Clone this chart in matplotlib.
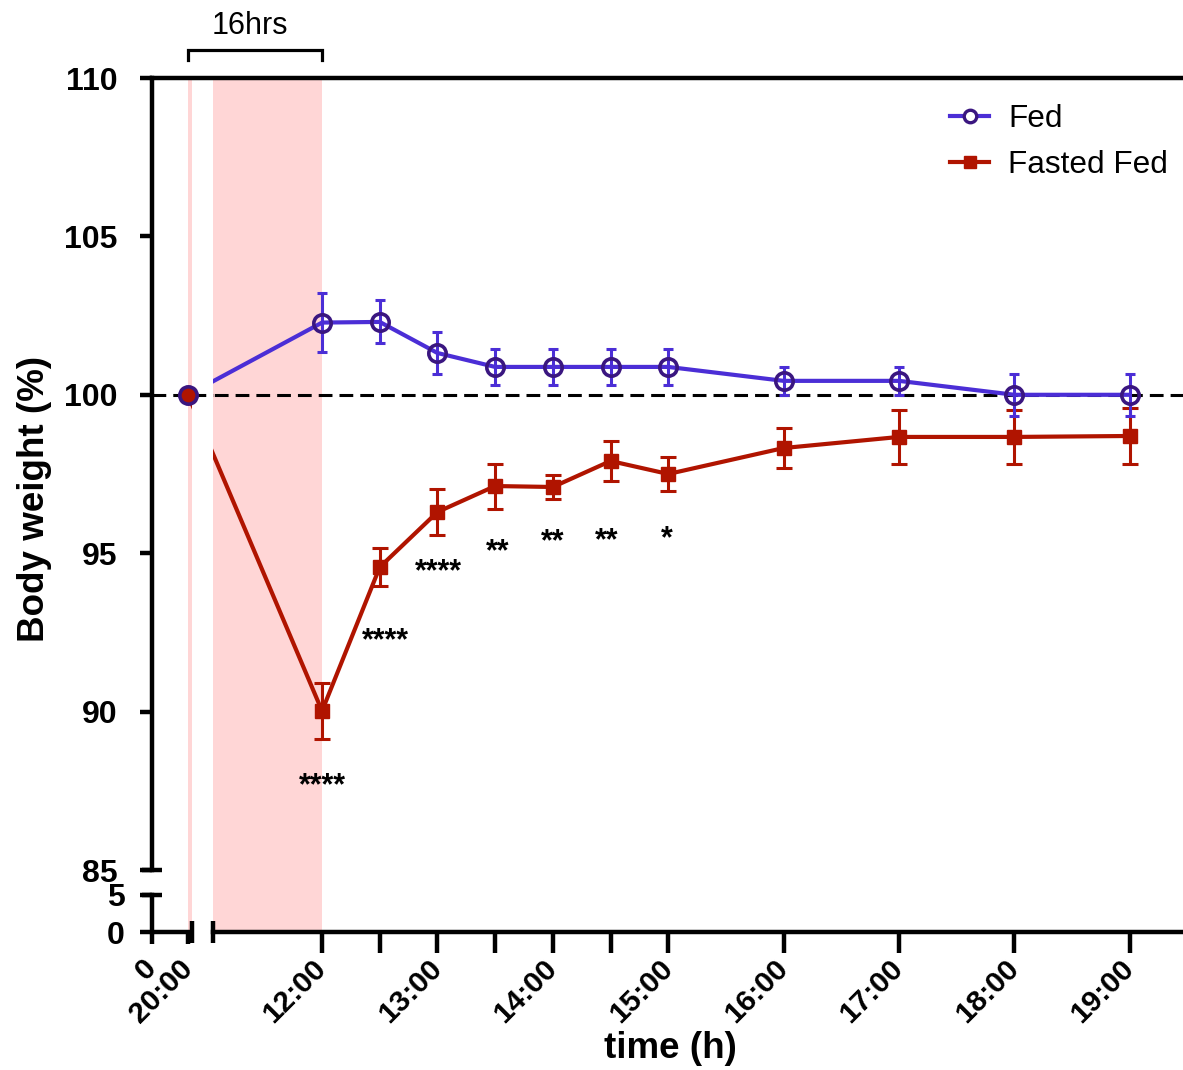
import numpy as np
import matplotlib
matplotlib.use("Agg")
import matplotlib.pyplot as plt
from matplotlib.lines import Line2D

plt.rcParams['font.family'] = ['Liberation Sans', 'DejaVu Sans']

# ---------------- data ----------------
time_labels = ['20:00', '12:00', '12:30', '13:00', '13:30', '14:00', '14:30',
               '15:00', '16:00', '17:00', '18:00', '19:00']
# hours since midnight of the first day (20:00 day 0 -> 20, 12:00 day 1 -> 36)
time_hours = [20, 36, 36.5, 37, 37.5, 38, 38.5, 39, 40, 41, 42, 43]

fed_mean = [100.0, 102.28, 102.30, 101.32, 100.88, 100.88, 100.88, 100.88,
            100.44, 100.44, 100.00, 100.00]
fed_sem = [0.0, 0.93, 0.68, 0.65, 0.58, 0.58, 0.58, 0.58, 0.44, 0.44, 0.66, 0.66]

fasted_mean = [100.0, 90.02, 94.56, 96.30, 97.12, 97.09, 97.91, 97.50,
               98.32, 98.67, 98.67, 98.70]
fasted_sem = [0.0, 0.87, 0.60, 0.74, 0.71, 0.38, 0.62, 0.54, 0.63, 0.86, 0.86, 0.88]

star_labels = ['****', '****', '****', '**', '**', '**', '*']
star_x = [36.0, 36.55, 37.01, 37.52, 38.0, 38.47, 38.99]
star_y = [87.81, 92.39, 94.56, 95.20, 95.51, 95.54, 95.61]

fast_start, fast_end = 20, 36

xtick_major = [36, 36.5, 37, 37.5, 38, 38.5, 39, 40, 41, 42, 43]
xtick_major_labels = ['12:00', '', '13:00', '', '14:00', '', '15:00', '16:00',
                      '17:00', '18:00', '19:00']
xtick_minor = [0, 20]
xtick_minor_labels = ['0', '20:00']
ytick_major = [85, 90, 95, 100, 105, 110]
ytick_minor = [0, 5]

# ---------------- styles ----------------
BLUE = '#4B2ED6'
PURPLE = '#3A1680'
RED = '#B01400'
PINK = '#FFD6D6'
SPINE_LW = 3.2

# ---------------- broken-axis scales ----------------
XL_END = 40 / 1.8          # end of left x segment (hours)
XR_START = 35.055          # start of right x segment (hours)
X_MAX = XR_START + (1031 - 61) / 115.4


def xf(x):
    x = np.asarray(x, float)
    return np.where(x <= XL_END, x * 1.8,
                    np.where(x < XR_START, 40 + (x - XL_END) * 21 / (XR_START - XL_END),
                             61 + (x - XR_START) * 115.4))


def xi(p):
    p = np.asarray(p, float)
    return np.where(p <= 40, p / 1.8,
                    np.where(p < 61, XL_END + (p - 40) * (XR_START - XL_END) / 21,
                             XR_START + (p - 61) / 115.4))


def yf(y):
    y = np.asarray(y, float)
    return np.where(y <= 5, y * 7.4,
                    np.where(y <= 85, 37 + (y - 5) * 25 / 80, 62 + (y - 85) * 31.68))


def yi(p):
    p = np.asarray(p, float)
    return np.where(p <= 37, p / 7.4,
                    np.where(p <= 62, 5 + (p - 37) * 80 / 25, 85 + (p - 62) / 31.68))


fig = plt.figure(figsize=(11.83, 10.70), dpi=100)
ax = fig.add_axes([152 / 1183, 138 / 1070, 1031 / 1183, 854 / 1070])
ax.set_xscale('function', functions=(xf, xi))
ax.set_yscale('function', functions=(yf, yi))
ax.set_xlim(0, X_MAX)
ax.set_ylim(0, 110)

# fasting shading, dashed reference
ax.axvspan(fast_start, fast_end, color=PINK, lw=0, zorder=0.5)
ax.axhline(100, color='k', lw=2.2, dashes=(4.5, 2.3), zorder=1)

# data
ax.plot(time_hours, fasted_mean, color=RED, lw=3, zorder=2, solid_capstyle='butt')
ax.plot(time_hours, fed_mean, color=BLUE, lw=3, zorder=2.05, solid_capstyle='butt')

# x-axis gap mask
ax.axvspan(XL_END, XR_START, color='white', lw=0, zorder=2.3)
ax.plot([XL_END, XR_START], [100, 100], color='k', lw=2.2, dashes=(4.5, 2.3), zorder=2.4)

ax.errorbar(time_hours, fasted_mean, yerr=fasted_sem, fmt='none', ecolor=RED,
            elinewidth=2.2, capsize=6, capthick=2.2, zorder=2.6)
ax.errorbar(time_hours, fed_mean, yerr=fed_sem, fmt='none', ecolor=BLUE,
            elinewidth=2.2, capsize=3.6, capthick=2.2, zorder=2.65)
ax.plot(time_hours, fasted_mean, ls='none', marker='s', ms=10, color=RED,
        mec=RED, zorder=2.7)
ax.plot(time_hours, fed_mean, ls='none', marker='o', ms=12.5, mfc='none',
        mec=PURPLE, mew=2.6, zorder=2.75)

for s, sx, sy in zip(star_labels, star_x, star_y):
    ax.annotate(s, xy=(sx, sy), xytext=(0, -9.5), textcoords='offset points',
                ha='center', va='baseline', fontsize=22, fontweight='bold', zorder=4)

# ---------------- spines / broken axes ----------------
ax.spines['right'].set_visible(False)
for side in ['left', 'bottom', 'top']:
    ax.spines[side].set_linewidth(SPINE_LW)
ax.spines['left'].set_bounds(85, 110)
ax.spines['bottom'].set_bounds(XR_START, X_MAX)
ax.plot([0, 0], [0, 5], transform=ax.get_yaxis_transform(), color='k',
        lw=SPINE_LW, clip_on=False, zorder=2.5, solid_capstyle='projecting')
ax.plot([0, XL_END], [0, 0], transform=ax.get_xaxis_transform(), color='k',
        lw=SPINE_LW, clip_on=False, zorder=2.5, solid_capstyle='butt')
ax.plot([0, 0], [85, 5], transform=ax.get_yaxis_transform(), ls='none',
        marker='_', ms=14.5, mew=SPINE_LW, color='k', clip_on=False, zorder=3)
ax.plot([XL_END, XR_START], [0, 0], transform=ax.get_xaxis_transform(), ls='none',
        marker='|', ms=16, mew=SPINE_LW, color='k', clip_on=False, zorder=3)

# ticks
ax.set_xticks(xtick_major, labels=xtick_major_labels)
ax.set_xticks(xtick_minor, labels=xtick_minor_labels, minor=True)
ax.set_yticks(ytick_major, labels=[str(v) for v in ytick_major])
ax.set_yticks(ytick_minor, labels=[str(v) for v in ytick_minor], minor=True)

ax.tick_params(axis='x', which='major', length=15, width=SPINE_LW, pad=8, labelsize=21.5)
ax.tick_params(axis='x', which='minor', length=8.6, width=SPINE_LW, pad=14.5, labelsize=21.5)
ax.tick_params(axis='y', which='major', length=8.6, width=SPINE_LW, pad=16, labelsize=23)
ax.tick_params(axis='y', which='minor', length=8.6, width=SPINE_LW, pad=11, labelsize=23)
for lab in ax.get_xticklabels(which='both'):
    lab.set_rotation(45)
    lab.set_ha('right')
    lab.set_va('center')
    lab.set_rotation_mode('anchor')
    lab.set_fontweight('bold')
for lab in ax.get_yticklabels(which='both'):
    lab.set_fontweight('bold')

# 16hrs bracket
tr = ax.get_xaxis_transform()
ax.plot([fast_start, fast_start, fast_end, fast_end], [1.0211, 1.0328, 1.0328, 1.0211],
        transform=tr, color='k', lw=2.3, clip_on=False, solid_joinstyle='miter')
ax.text(0.095, 1.0605, '16hrs', transform=ax.transAxes, ha='center', va='center',
        fontsize=22)

# labels
fig.text(35 / 1183, 1 - 499 / 1070, 'Body weight (%)', rotation=90, ha='center',
         va='center', fontsize=26.5, fontweight='bold')
fig.text(670 / 1183, 1 - 1048 / 1070, 'time (h)', ha='center', va='center',
         fontsize=26.5, fontweight='bold')

# legend
h_fed = Line2D([], [], color=BLUE, lw=3, marker='o', ms=9, mfc='white', mec=PURPLE, mew=2.4)
h_fast = Line2D([], [], color=RED, lw=3, marker='s', ms=9, mec=RED)
fig.legend([h_fed, h_fast], ['Fed', 'Fasted Fed'], loc='upper left',
           bbox_to_anchor=(950 / 1183, 1 - 104 / 1070), bbox_transform=fig.transFigure,
           frameon=False, fontsize=22.7, borderpad=0, borderaxespad=0,
           handlelength=1.25, handletextpad=0.6, labelspacing=0.5)

fig.savefig('out.png', dpi=100)
